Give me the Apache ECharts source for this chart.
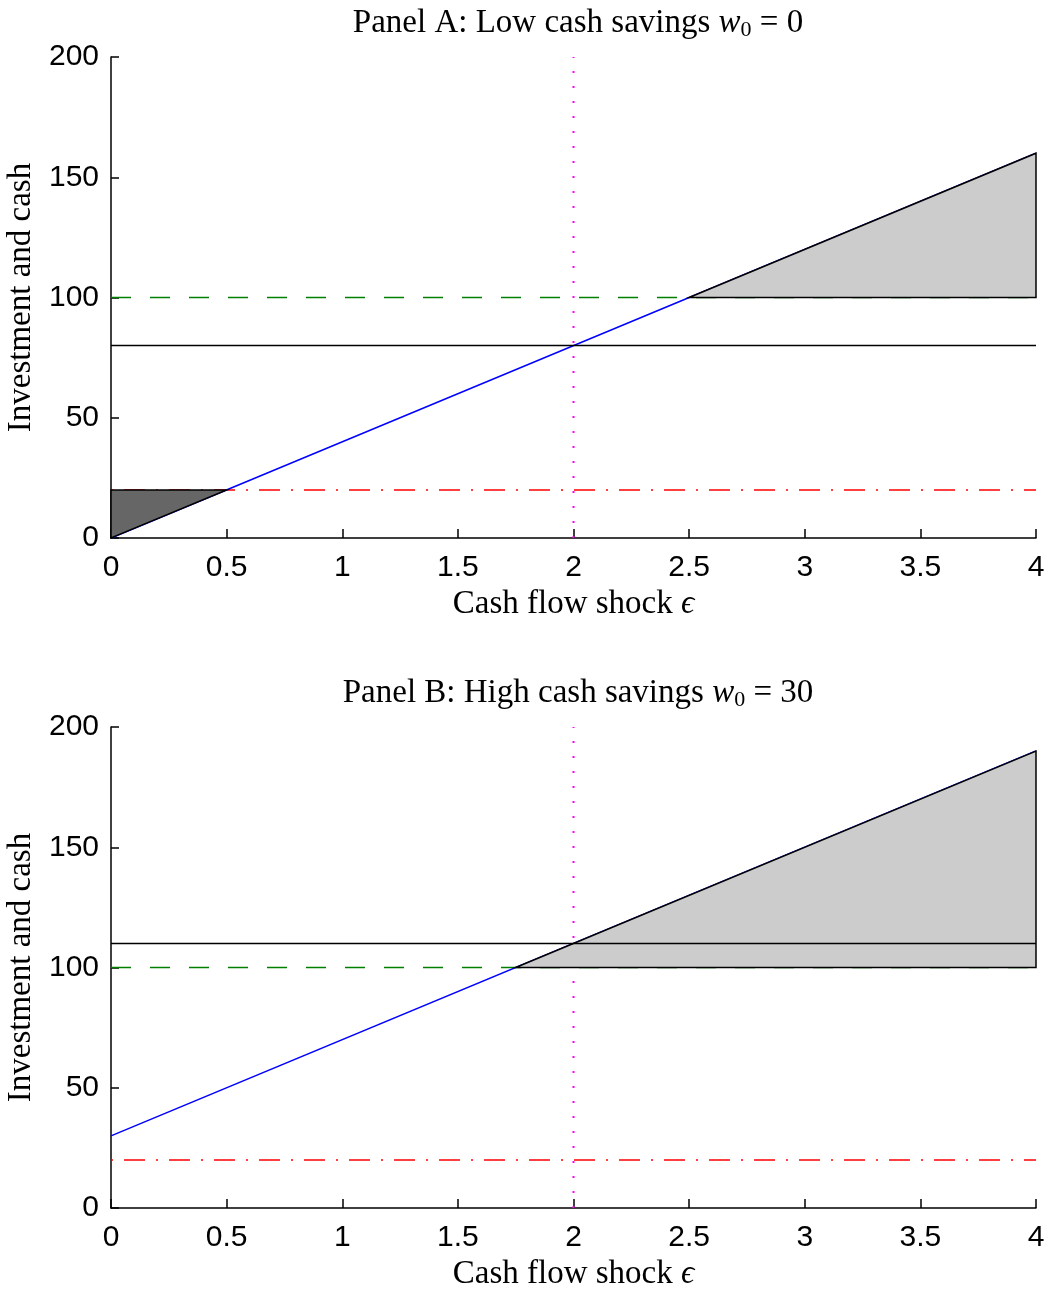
<!DOCTYPE html>
<html><head><meta charset="utf-8">
<script src="https://cdn.jsdelivr.net/npm/echarts@6/dist/echarts.min.js"></script>
<style>html,body{margin:0;padding:0;background:#fff}#c{width:1050px;height:1291px}</style>
</head><body><div id="c"></div>
<script>
// ---- data ----
const xTicks = [0, 0.5, 1, 1.5, 2, 2.5, 3, 3.5, 4];
const yTicks = [0, 50, 100, 150, 200];
const panelTitles = ['Panel A: Low cash savings ', 'Panel B: High cash savings '];
const w0Values = [0, 30];
const cashLineA = [[0, 0], [4, 160]];
const cashLineB = [[0, 30], [4, 190]];
const investLevelA = [[0, 80], [4, 80]];
const investLevelB = [[0, 110], [4, 110]];
const targetLevel = [[0, 100], [4, 100]];
const minLevel = [[0, 20], [4, 20]];
const shockMark = [[2, 0], [2, 200]];
const shadeUpperA = [[2.5, 100], [4, 160], [4, 100]];
const shadeLowerA = [[0, 0], [0, 20], [0.5, 20]];
const shadeUpperB = [[1.75, 100], [4, 190], [4, 100]];

const serif = 'Liberation Serif, DejaVu Serif, serif';
const sans = 'Liberation Sans, Arial, sans-serif';
const LW = 1.5;
const SF = 33;

function polySeries(idx, pts, color, z) {
  return {
    type: 'custom', xAxisIndex: idx, yAxisIndex: idx, z: z, silent: true,
    data: [0],
    renderItem: function (params, api) {
      const points = pts.map(p => api.coord(p));
      return { type: 'polygon', shape: { points: points },
        style: { fill: color, stroke: '#000', lineWidth: LW } };
    }
  };
}
function lineSeries(idx, data, color, type, z, offset, w) {
  return { type: 'line', xAxisIndex: idx, yAxisIndex: idx, data: data, symbol: 'none', z: z,
    silent: true, lineStyle: { color: color, width: w || LW, type: type, dashOffset: offset || 0 } };
}

const grids = [
  { left: 111, right: 14, top: 57, height: 481, containLabel: false, outerBoundsMode: 'none' },
  { left: 111, right: 14, top: 727, height: 481, containLabel: false, outerBoundsMode: 'none' }
];
const xAxes = grids.map((g, i) => ({
  gridIndex: i, type: 'value', min: 0, max: 4, interval: 0.5,
  name: 'Cash flow shock {e|ϵ}', nameLocation: 'middle', nameGap: 50,
  nameTextStyle: { fontFamily: serif, fontSize: SF, color: '#000',
    rich: { e: { fontFamily: serif, fontSize: SF, fontStyle: 'italic', color: '#000' } } },
  axisLine: { show: true, lineStyle: { color: '#000', width: LW } },
  axisTick: { show: true, inside: true, length: 9, lineStyle: { color: '#000', width: LW } },
  axisLabel: { fontFamily: sans, fontSize: 30, color: '#000', margin: 15,
    formatter: v => String(v) },
  splitLine: { show: false }
}));
const yAxes = grids.map((g, i) => ({
  gridIndex: i, type: 'value', min: 0, max: 200, interval: 50,
  name: 'Investment and cash', nameLocation: 'middle', nameGap: 66, nameRotate: 90,
  nameTextStyle: { fontFamily: serif, fontSize: SF, color: '#000' },
  axisLine: { show: true, lineStyle: { color: '#000', width: LW } },
  axisTick: { show: true, inside: true, length: 8, lineStyle: { color: '#000', width: LW } },
  axisLabel: { fontFamily: sans, fontSize: 30, color: '#000', margin: 12 },
  splitLine: { show: false }
}));
const titles = panelTitles.map((t, i) => ({
  text: '{t|' + t + '}{w|w}{s|0}{t| = ' + w0Values[i] + '}',
  left: 573, textAlign: 'center', top: i === 0 ? -1 : 669,
  textStyle: { fontWeight: 'normal', rich: {
    t: { fontFamily: serif, fontSize: SF, fontWeight: 'normal', color: '#000', lineHeight: 38 },
    w: { fontFamily: serif, fontSize: SF, fontWeight: 'normal', fontStyle: 'italic', color: '#000', lineHeight: 38 },
    s: { fontFamily: serif, fontSize: 22, fontWeight: 'normal', color: '#000', lineHeight: 38, padding: [15, 0, 0, 0] }
  } }
}));

const series = [];
[[cashLineA, investLevelA, [shadeUpperA, shadeLowerA]], [cashLineB, investLevelB, [shadeUpperB]]]
  .forEach((cfg, i) => {
    series.push(lineSeries(i, targetLevel, '#008000', [20, 19], 2));
    series.push(lineSeries(i, minLevel, '#ff0000', [21, 11, 2, 11], 2, 32));
    series.push(lineSeries(i, cfg[0], '#0000ff', 'solid', 3));
    series.push(lineSeries(i, shockMark, '#ff00ff', [2, 13], 3, 0, 2));
    cfg[2].forEach((p, k) => series.push(polySeries(i, p, (i === 0 && k === 1) ? '#666666' : '#cccccc', 5)));
    series.push(lineSeries(i, cfg[1], '#000000', 'solid', 6));
  });

const chart = echarts.init(document.getElementById('c'), null, { renderer: 'canvas' });
chart.setOption({ animation: false, backgroundColor: '#fff', title: titles, grid: grids,
  xAxis: xAxes, yAxis: yAxes, series: series });
</script></body></html>
